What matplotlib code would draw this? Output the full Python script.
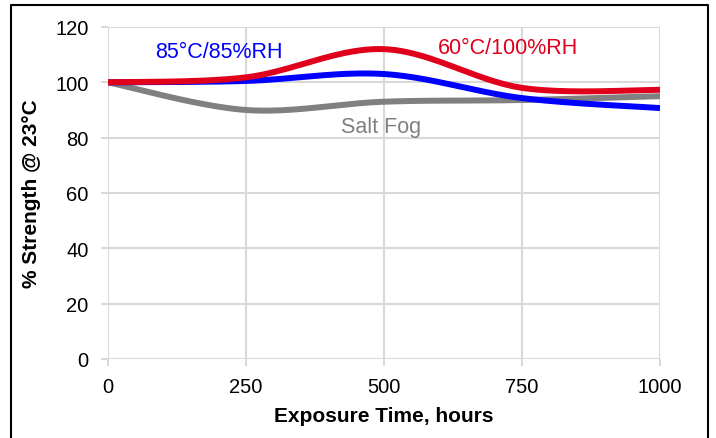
import numpy as np
import matplotlib.pyplot as plt
from matplotlib.lines import Line2D

plt.rcParams['font.family'] = ['Liberation Sans', 'DejaVu Sans']

hours = [0, 250, 500, 750, 1000]
salt_fog = [100, 90, 93, 93.6, 95]
rh85 = [100, 100.5, 103, 94.3, 90.7]
rh100 = [100, 101.8, 112, 98, 97.3]


def smooth(x, y, n=40):
    # Excel-style smoothed line (Catmull-Rom through the points)
    x = np.asarray(x, float)
    y = np.asarray(y, float)
    px = np.concatenate([[x[0]], x, [x[-1]]])
    py = np.concatenate([[y[0]], y, [y[-1]]])
    xs, ys = [], []
    t = np.linspace(0, 1, n)
    for i in range(1, len(px) - 2):
        p0, p1, p2, p3 = (np.array([px[j], py[j]]) for j in (i - 1, i, i + 1, i + 2))
        c1 = p1 + (p2 - p0) / 6
        c2 = p2 - (p3 - p1) / 6
        b = ((1 - t) ** 3)[:, None] * p1 + (3 * (1 - t) ** 2 * t)[:, None] * c1 \
            + (3 * (1 - t) * t ** 2)[:, None] * c2 + (t ** 3)[:, None] * p2
        xs.append(b[:, 0])
        ys.append(b[:, 1])
    return np.concatenate(xs), np.concatenate(ys)


fig = plt.figure(figsize=(7.16, 4.39), dpi=100)
ax = fig.add_axes([108 / 716, 1 - 360 / 439, 552 / 716, 332 / 439])

for y, c in [(salt_fog, '#808080'), (rh85, '#0000ff'), (rh100, '#e0001b')]:
    sx, sy = smooth(hours, y)
    ax.plot(sx, sy, color=c, lw=4.3, solid_capstyle='butt', zorder=3)

ax.text(85, 111.3, '85°C/85%RH', color='#0000ff', fontsize=15.5, va='center')
ax.text(598, 112.7, '60°C/100%RH', color='#e0001b', fontsize=15.5, va='center')
ax.text(494, 84, 'Salt Fog', color='#808080', fontsize=15.5, va='center', ha='center')

ax.set_xlim(0, 1000)
ax.set_ylim(0, 120)
ax.set_xticks(hours)
ax.set_yticks(range(0, 121, 20))
ax.grid(True, color='#d9d9d9', lw=1.5)
for s in ax.spines.values():
    s.set_visible(False)
ax.tick_params(colors='#d9d9d9', labelcolor='#000000', labelsize=14.5, length=5, width=1.5)
ax.tick_params(axis='y', pad=9)
ax.tick_params(axis='x', pad=8)
ax.set_xlabel('Exposure Time, hours', fontsize=15, fontweight='bold', labelpad=7)
ax.set_ylabel('% Strength @ 23°C', fontsize=15, fontweight='bold', labelpad=10)

# outer frame
fx = [11 / 716, 11 / 716, 708 / 716, 708 / 716]
fy = [-0.05, 1 - 6 / 439, 1 - 6 / 439, -0.05]
fig.add_artist(Line2D(fx, fy, transform=fig.transFigure, color='black', lw=1.5))

fig.savefig('out.png', dpi=100)
